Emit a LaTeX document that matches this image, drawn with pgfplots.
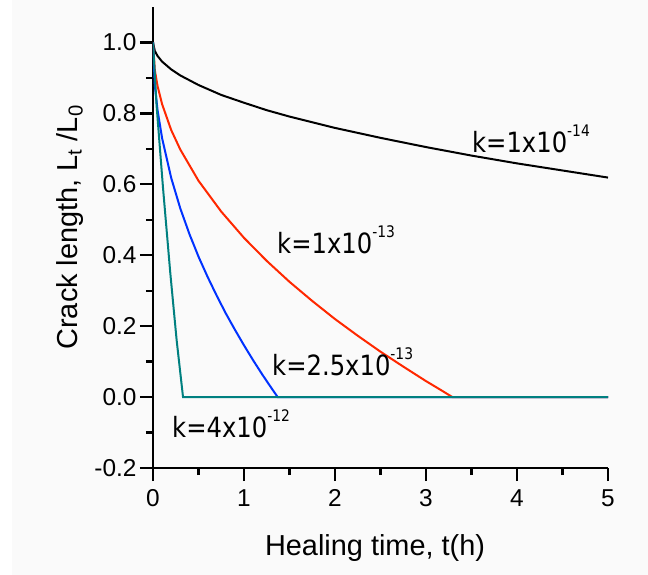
\documentclass[border=0pt]{standalone}
\usepackage{pgfplots}
\pgfplotsset{compat=1.18}
\usepackage{fontspec}
\setmainfont{Liberation Sans}
\newfontfamily\annfont[FakeStretch=0.87]{DejaVu Sans}

\definecolor{cred}{RGB}{255,40,0}
\definecolor{cblue}{RGB}{0,50,255}
\definecolor{cteal}{RGB}{0,128,128}
\definecolor{bg}{RGB}{250,250,250}

% k label with raised exponent
\newcommand\kk[2]{{\annfont\fontsize{28}{28}\selectfont k=#1x10\raisebox{16bp}{\fontsize{16}{16}\selectfont #2}}}

\begin{document}
\begin{tikzpicture}
\fill[bg] (-141bp,-107bp) rectangle (495bp,468bp);
\begin{axis}[
    scale only axis,
    width=455bp, height=461bp,
    xmin=0, xmax=5, ymin=-0.2, ymax=1.1,
    axis x line*=bottom, axis y line*=left,
    axis line style={line width=2.3bp},
    xtick={0,1,2,3,4,5},
    ytick={-0.2,0,0.2,0.4,0.6,0.8,1.0},
    minor x tick num=1, minor y tick num=1,
    tick align=outside,
    major tick length=13bp, minor tick length=7bp,
    tick style={line width=2.3bp, black},
    /pgf/number format/assume math mode=true,
    yticklabel style={/pgf/number format/fixed, /pgf/number format/fixed zerofill, /pgf/number format/precision=1},
    ticklabel style={font=\fontsize{24.5}{26}\selectfont},
    xticklabel style={yshift=-5bp},
    xlabel={Healing time, t(h)},
    ylabel={Crack length, L\textsubscript{t} /L\textsubscript{0}},
    xlabel style={at={(axis description cs:0.488,-0.189)}, anchor=base, font=\fontsize{29}{30}\selectfont},
    ylabel style={at={(axis description cs:-0.167,0.522)}, anchor=base, font=\fontsize{29}{30}\selectfont},
    every axis plot/.append style={line width=2bp, mark=none},
]

% k = 1e-14
\addplot[black] coordinates {
    (0,1.0) (0.02,0.976) (0.05,0.962) (0.1,0.946) (0.2,0.924) (0.3,0.907)
    (0.5,0.880) (0.75,0.852) (1,0.830) (1.25,0.809) (1.5,0.791) (2,0.759)
    (2.5,0.731) (3,0.705) (3.5,0.681) (4,0.659) (4.5,0.639) (5,0.619)
};

% k = 1e-13
\addplot[cred] coordinates {
    (0,1.0) (0.02,0.922) (0.05,0.877) (0.1,0.826) (0.2,0.753) (0.3,0.698)
    (0.5,0.610) (0.75,0.523) (1,0.449) (1.25,0.384) (1.5,0.325) (1.75,0.271)
    (2,0.220) (2.25,0.173) (2.5,0.128) (2.75,0.086) (3,0.045) (3.15,0.022)
    (3.29,0) (5,0)
};

% k = 2.5e-13
\addplot[cblue] coordinates {
    (0,1.0) (0.02,0.879) (0.05,0.809) (0.1,0.730) (0.2,0.618) (0.3,0.532)
    (0.4,0.460) (0.5,0.396) (0.6,0.339) (0.7,0.286) (0.8,0.236) (0.9,0.190)
    (1.0,0.146) (1.1,0.104) (1.2,0.064) (1.3,0.026) (1.37,0) (5,0)
};

% k = 4e-12
\addplot[cteal] coordinates {
    (0,1.0) (0.04,0.82) (0.11,0.59) (0.19,0.35) (0.26,0.16) (0.33,0) (5,0)
};

\node[anchor=base west, inner sep=0] at (axis cs:3.505,0.691) {\kk{1}{-14}};
\node[anchor=base west, inner sep=0] at (axis cs:1.363,0.406) {\kk{1}{-13}};
\node[anchor=base west, inner sep=0] at (axis cs:1.308,0.060) {\kk{2.5}{-13}};
\node[anchor=base west, inner sep=0] at (axis cs:0.209,-0.113) {\kk{4}{-12}};
\end{axis}
\pgfresetboundingbox
\path (-153bp,-107bp) rectangle (495bp,468bp);
\end{tikzpicture}
\end{document}
